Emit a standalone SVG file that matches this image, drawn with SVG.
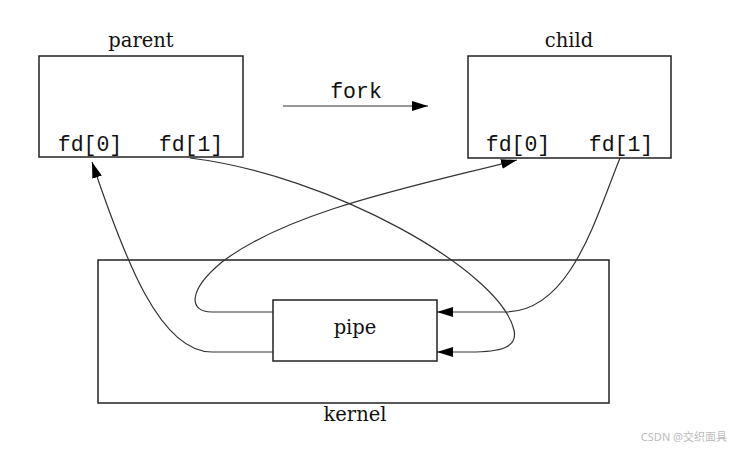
<svg xmlns="http://www.w3.org/2000/svg" width="737" height="450" viewBox="0 0 737 450">
<style>
.box{fill:#fff;stroke:#222;stroke-width:1.5}
.lbl{font-family:"DejaVu Serif","Liberation Serif",serif;font-size:19.5px;fill:#111;text-anchor:middle}
.mono{font-family:"Liberation Mono","DejaVu Sans Mono",monospace;font-size:21.5px;fill:#111;text-anchor:middle}
.wire{fill:none;stroke:#333;stroke-width:1.2}
</style>
<defs>
<marker id="ah" viewBox="0 0 16 10" refX="16" refY="5" markerWidth="16" markerHeight="10" markerUnits="userSpaceOnUse" orient="auto">
<path d="M0,0 L16,5 L0,10 Z" fill="#000"/>
</marker>
</defs>
<rect width="737" height="450" fill="#fff"/>
<g id="kernel">
<rect class="box" x="98" y="260" width="511" height="143"/>
<text class="lbl" x="355" y="421">kernel</text>
</g>
<g id="connectors">
<path class="wire" d="M283,106 L428,106" marker-end="url(#ah)"/>
<path class="wire" d="M273,352 L212,352 C160,352 125,260 92,162" marker-end="url(#ah)"/>
<path class="wire" d="M190,158 C330,175 500,270 514,330 C518,348 500,352 470,352 L437,352" marker-end="url(#ah)"/>
<path class="wire" d="M620,158 C595,220 570,312 505,312 L437,312" marker-end="url(#ah)"/>
<path class="wire" d="M273,312 L212,312 C188,312 188,290 222,262 C290,210 420,185 517,160" marker-end="url(#ah)"/>
</g>
<g id="parent">
<rect class="box" x="39" y="56" width="204" height="101"/>
<text class="lbl" x="141" y="47">parent</text>
<text class="mono" x="90" y="151">fd[0]</text>
<text class="mono" x="191" y="151">fd[1]</text>
</g>
<g id="child">
<rect class="box" x="468" y="56" width="203" height="102"/>
<text class="lbl" x="569" y="47">child</text>
<text class="mono" x="518" y="151">fd[0]</text>
<text class="mono" x="621" y="151">fd[1]</text>
</g>
<g id="fork">
<text class="mono" x="356" y="98">fork</text>
</g>
<g id="pipe">
<rect class="box" x="273" y="300" width="164" height="61"/>
<text class="lbl" x="355" y="334">pipe</text>
</g>
<text x="727" y="441" font-family="'Noto Sans','Noto Sans CJK SC',sans-serif" font-size="11" fill="#bbb" text-anchor="end">CSDN @交织面具</text>
</svg>
